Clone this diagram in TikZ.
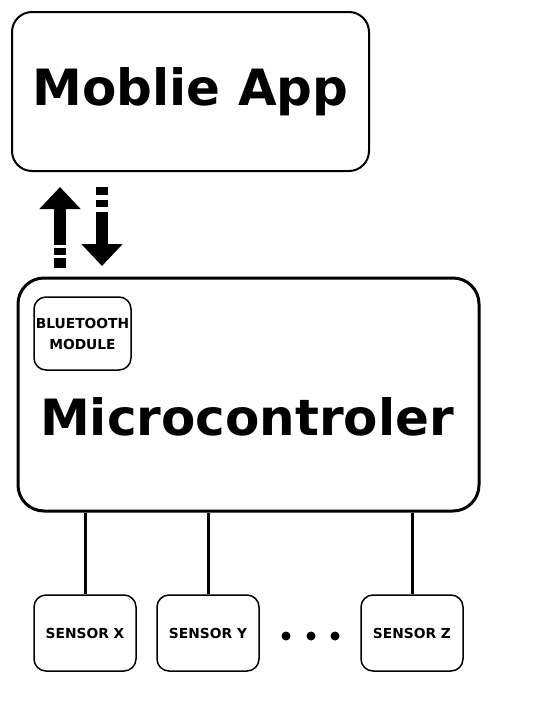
\documentclass[tikz,border=0pt]{standalone}
\usepackage{fontspec}
\setmainfont{DejaVu Sans}
\usetikzlibrary{arrows.meta}

\begin{document}
\begin{tikzpicture}[x=1pt, y=-1pt,
		box/.style={draw, rounded corners=12, line width=1.5, inner sep=0,
			font=\fontsize{13.8}{21}\selectfont\bfseries, align=center},
		wire/.style={line width=3},
		bigarrow/.style={line width=12, -{Triangle[width=40pt,length=22pt]}},
		dot/.style={circle, fill, inner sep=0, minimum size=9}]
			\useasboundingbox (0,0) rectangle (540,707);
			
			\node[box, rounded corners=20, line width=2, minimum width=357, minimum height=159,
				font=\fontsize{50}{60}\selectfont\bfseries] (app) at (190.5,91.5) {Moblie App};
			
			\node[box, rounded corners=26, line width=3, minimum width=461, minimum height=233] (micro) at (248.5,394.5) {};
			\node[font=\fontsize{50}{60}\selectfont\bfseries] (microtext) at (247,417) {Microcontroler};
			\node[box, minimum width=97, minimum height=73] (bt) at (82.5,333.5) {BLUETOOTH\\MODULE};
			
			% arrows between app and microcontroler
			\coordinate (upfrom) at (60,268);
			\coordinate (upto) at (60,187);
			\coordinate (downfrom) at (102,187);
			\coordinate (downto) at (102,266);
			\draw[bigarrow, dash pattern=on 10pt off 3pt on 7pt off 3pt on 300pt off 0pt] (upfrom) -- (upto);
			\draw[bigarrow, dash pattern=on 8pt off 5pt on 7pt off 5pt on 300pt off 0pt] (downfrom) -- (downto);
			
			% sensors
			\node[box, minimum width=102, minimum height=76] (sx) at (85,633) {\raisebox{-1.5pt}{SENSOR X}};
			\node[box, minimum width=102, minimum height=76] (sy) at (208,633) {\raisebox{-1.5pt}{SENSOR Y}};
			\node[box, minimum width=102, minimum height=76] (sz) at (412,633) {\raisebox{-1.5pt}{SENSOR Z}};
			\foreach \s in {sx,sy,sz}
				\draw[wire] (micro.south -| \s.north) -- (\s.north);
			
			\foreach \x [count=\i] in {286,311,335}
				\node[dot] (d\i) at (\x,636) {};
		\end{tikzpicture}
\end{document}
